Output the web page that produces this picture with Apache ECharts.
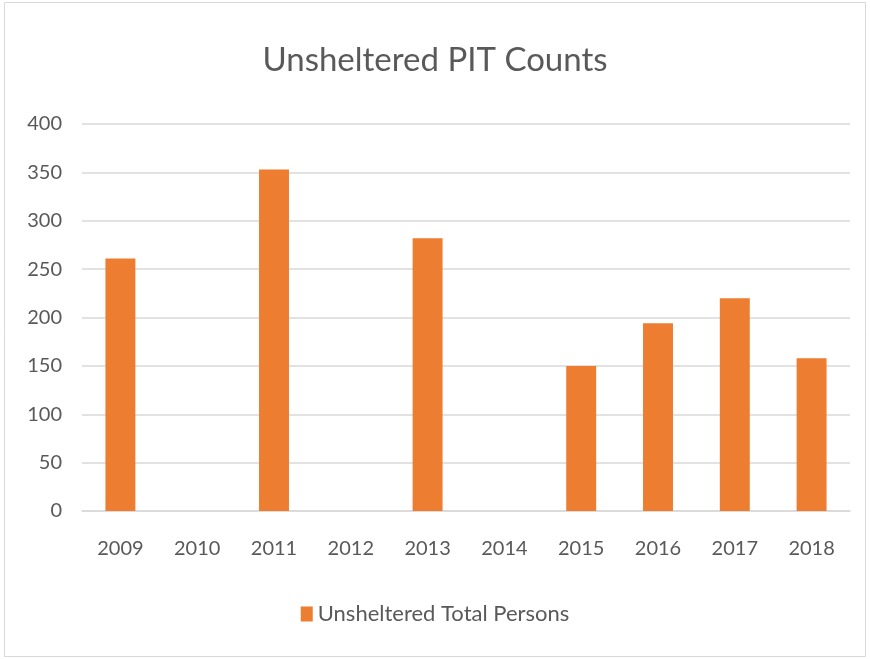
<!DOCTYPE html>
<html>
<head>
<meta charset="utf-8">
<script src="https://cdn.jsdelivr.net/npm/echarts@6/dist/echarts.min.js"></script>
<style>
  html, body { margin: 0; padding: 0; background: #fff; }
  #chart { width: 870px; height: 659px; }
</style>
</head>
<body>
<div id="chart"></div>
<script>
const years = ["2009", "2010", "2011", "2012", "2013", "2014", "2015", "2016", "2017", "2018"];
const unsheltered = [261, null, 353, null, 282, null, 150, 194, 220, 158];
const yTicks = [0, 50, 100, 150, 200, 250, 300, 350, 400];

const chart = echarts.init(document.getElementById("chart"));
const font = "Lato, 'Open Sans', sans-serif";

chart.setOption({
  backgroundColor: "#fff",
  animation: false,
  graphic: [
    {
      type: "rect",
      shape: { x: 4.5, y: 2.5, width: 861, height: 654 },
      style: { fill: "none", stroke: "#d9d9d9", lineWidth: 1 },
      silent: true
    }
  ],
  title: {
    text: "Unsheltered PIT Counts",
    left: "center",
    top: 39,
    textStyle: { color: "#595959", fontFamily: font, fontWeight: "normal", fontSize: 33 }
  },
  legend: {
    bottom: 29,
    left: "center",
    itemWidth: 12,
    itemHeight: 15,
    itemGap: 6,
    icon: "rect",
    textStyle: { color: "#595959", fontFamily: font, fontSize: 22 },
    data: ["Unsheltered Total Persons"]
  },
  grid: { left: 82, right: 20, top: 124, bottom: 148 },
  xAxis: {
    type: "category",
    data: years,
    axisTick: { show: false },
    axisLine: { lineStyle: { color: "#d9d9d9", width: 1.5 } },
    axisLabel: { color: "#595959", fontFamily: font, fontSize: 20, margin: 28 }
  },
  yAxis: {
    type: "value",
    min: yTicks[0],
    max: yTicks[yTicks.length - 1],
    interval: 50,
    axisLine: { show: false },
    axisTick: { show: false },
    splitLine: { lineStyle: { color: "#d9d9d9", width: 1.5 } },
    axisLabel: { color: "#595959", fontFamily: font, fontSize: 20, margin: 20 }
  },
  series: [
    {
      name: "Unsheltered Total Persons",
      type: "bar",
      data: unsheltered,
      barWidth: "39%",
      itemStyle: { color: "#ED7D31" }
    }
  ]
});
</script>
</body>
</html>
